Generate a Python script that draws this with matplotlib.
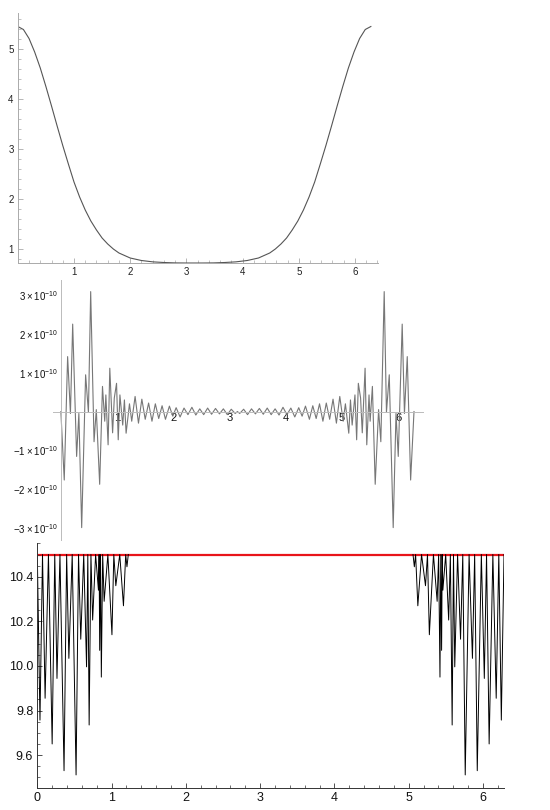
import numpy as np
import matplotlib
matplotlib.use("Agg")
import matplotlib.pyplot as plt
from matplotlib.ticker import MultipleLocator, FixedLocator

plt.rcParams["font.family"] = ["Liberation Sans", "DejaVu Sans"]
plt.rcParams["mathtext.fontset"] = "custom"
plt.rcParams["mathtext.rm"] = "Liberation Sans"

# --- top panel: smooth bump ---
top_x = [0.0, 0.1, 0.2, 0.3, 0.4, 0.5, 0.6, 0.7, 0.8, 0.9, 1.0, 1.1, 1.2, 1.3,
         1.4, 1.5, 1.6, 1.7, 1.8, 1.9, 2.0, 2.2, 2.4, 2.6, 2.8, 3.0, 3.142,
         3.283, 3.483, 3.683, 3.883, 4.083, 4.283, 4.383, 4.483, 4.583, 4.683,
         4.783, 4.883, 4.983, 5.083, 5.183, 5.283, 5.383, 5.483, 5.583, 5.683,
         5.783, 5.883, 5.983, 6.083, 6.183, 6.283]
top_y = [5.45, 5.39, 5.21, 4.94, 4.62, 4.25, 3.86, 3.46, 3.07, 2.70, 2.34,
         2.04, 1.78, 1.56, 1.38, 1.22, 1.10, 1.00, 0.92, 0.87, 0.82, 0.77,
         0.743, 0.73, 0.722, 0.72, 0.72,
         0.72, 0.722, 0.73, 0.743, 0.77, 0.82, 0.87, 0.92, 1.00, 1.10,
         1.22, 1.38, 1.56, 1.78, 2.04, 2.34, 2.70, 3.07, 3.46, 3.86,
         4.25, 4.62, 4.94, 5.21, 5.39, 5.45]

# --- middle panel: error curve, y in units of 1e-10 ---
err_x = [0.00, 0.06, 0.12, 0.17, 0.21, 0.28, 0.32, 0.37, 0.44, 0.49, 0.53,
         0.59, 0.63, 0.69, 0.74, 0.78, 0.80, 0.84, 0.87, 0.92, 0.95, 0.99,
         1.02, 1.05, 1.10, 1.13, 1.16, 1.22, 1.26, 1.32, 1.38, 1.44, 1.50,
         1.56, 1.62, 1.68, 1.74, 1.80, 1.86, 1.93, 1.99, 2.05, 2.12, 2.19,
         2.26, 2.33, 2.40, 2.47, 2.54, 2.61, 2.68, 2.75, 2.82, 2.89, 2.96,
         3.03, 3.10, 3.14,
         3.18, 3.25, 3.32, 3.39, 3.46, 3.53, 3.60, 3.67, 3.74, 3.81, 3.88,
         3.95, 4.02, 4.09, 4.16, 4.23, 4.29, 4.35, 4.42, 4.48, 4.54, 4.60,
         4.66, 4.72, 4.78, 4.84, 4.90, 4.96, 5.02, 5.06, 5.12, 5.15, 5.18,
         5.23, 5.26, 5.29, 5.33, 5.36, 5.41, 5.44, 5.48, 5.50, 5.54, 5.59,
         5.65, 5.69, 5.75, 5.79, 5.84, 5.91, 5.96, 6.00, 6.07, 6.11, 6.16,
         6.22, 6.28]
err_y = [0.00, -1.77, 1.42, -0.05, 2.26, -1.16, -0.05, -3.00, 0.95, -0.02,
         3.10, -0.78, 0.05, -1.88, 0.65, -0.25, 0.43, -0.86, 1.12, -0.55,
         0.35, 0.73, -0.73, 0.43, -0.35, 0.30, -0.56, 0.20, -0.25, 0.39,
         -0.30, 0.32, -0.20, 0.22, -0.25, 0.20, -0.18, 0.15, -0.20, 0.14,
         -0.12, 0.10, -0.14, 0.09, -0.08, 0.11, -0.09, 0.07, -0.08, 0.09,
         -0.07, 0.08, -0.06, 0.07, -0.08, 0.06, -0.05, 0.00,
         -0.05, 0.06, -0.08, 0.07, -0.06, 0.08, -0.07, 0.09, -0.08, 0.07,
         -0.09, 0.11, -0.08, 0.09, -0.14, 0.10, -0.12, 0.14, -0.20, 0.15,
         -0.18, 0.20, -0.25, 0.22, -0.20, 0.32, -0.30, 0.39, -0.25, 0.20,
         -0.56, 0.30, -0.35, 0.43, -0.73, 0.73, 0.35, -0.55, 1.12, -0.86,
         0.43, -0.25, 0.65, -1.88, 0.05, -0.78, 3.10, -0.02, 0.95, -3.00,
         -0.05, -1.16, 2.26, -0.05, 1.42, -1.77, 0.00]
err_ticks = [-3, -2, -1, 1, 2, 3]
err_labels = [r"$-3\times10^{-10}$", r"$-2\times10^{-10}$", r"$-1\times10^{-10}$",
              r"$1\times10^{-10}$", r"$2\times10^{-10}$", r"$3\times10^{-10}$"]

# --- bottom panel: dips below the 10.5 level ---
left_x = [0.000, 0.036, 0.070, 0.105, 0.150, 0.200, 0.235, 0.265, 0.305,
          0.360, 0.395, 0.425, 0.470, 0.522, 0.555, 0.585, 0.625, 0.663,
          0.680, 0.698, 0.722, 0.745, 0.785, 0.823, 0.832, 0.840, 0.851,
          0.862, 0.880, 0.900, 0.950, 1.005, 1.030, 1.057, 1.110, 1.160,
          1.190, 1.207, 1.225]
left_y = [10.50, 9.757, 10.50, 9.855, 10.50, 9.650, 10.50, 9.944, 10.50,
          9.530, 10.50, 10.034, 10.50, 9.511, 10.50, 10.12, 10.50, 9.996,
          10.50, 9.735, 10.50, 10.206, 10.50, 10.34, 10.50, 10.07, 10.50,
          9.95, 10.50, 10.29, 10.50, 10.14, 10.50, 10.36, 10.50, 10.27,
          10.50, 10.445, 10.50]
right_x = [5.058, 5.076, 5.093, 5.123, 5.173, 5.226, 5.253, 5.278, 5.333,
           5.383, 5.403, 5.421, 5.432, 5.443, 5.451, 5.460, 5.498, 5.538,
           5.561, 5.585, 5.603, 5.620, 5.658, 5.698, 5.728, 5.761, 5.813,
           5.858, 5.888, 5.923, 5.978, 6.018, 6.048, 6.083, 6.133, 6.178,
           6.213, 6.247, 6.283]
right_y = [10.50, 10.445, 10.50, 10.27, 10.50, 10.36, 10.50, 10.14, 10.50,
           10.29, 10.50, 9.95, 10.50, 10.07, 10.50, 10.34, 10.50, 10.206,
           10.50, 9.735, 10.50, 9.996, 10.50, 10.12, 10.50, 9.511, 10.50,
           10.034, 10.50, 9.530, 10.50, 9.944, 10.50, 9.650, 10.50, 9.855,
           10.50, 9.757, 10.50]
level = 10.5

W, H = 550, 810
fig = plt.figure(figsize=(W / 100, H / 100), dpi=100)


def box(left, top, right, bottom):
    # pixel box -> figure fraction
    return [left / W, 1 - bottom / H, (right - left) / W, (bottom - top) / H]


def mma_axes(ax, color):
    for s in ("top", "right"):
        ax.spines[s].set_visible(False)
    for s in ("left", "bottom"):
        ax.spines[s].set_color(color)
        ax.spines[s].set_linewidth(0.7)
    ax.tick_params(which="both", direction="in", color=color)
    ax.tick_params(which="major", length=3.5, width=0.6)
    ax.tick_params(which="minor", length=2, width=0.5)


# top
ax1 = fig.add_axes(box(17.8, 13, 378, 263))
ax1.plot(top_x, top_y, color="#555555", lw=0.8)
ax1.set_xlim(0, 6.41)
ax1.set_ylim(0.72, 5.72)
mma_axes(ax1, "#aaaaaa")
ax1.xaxis.set_major_locator(MultipleLocator(1))
ax1.xaxis.set_minor_locator(MultipleLocator(0.2))
ax1.yaxis.set_major_locator(FixedLocator([1, 2, 3, 4, 5]))
ax1.yaxis.set_minor_locator(MultipleLocator(0.2))
ax1.set_xticks([1, 2, 3, 4, 5, 6])
ax1.tick_params(labelsize=7, labelcolor="#222222", pad=3)

# middle
ax2 = fig.add_axes(box(53, 280, 423, 540))
ax2.plot(err_x, err_y, color="#777777", lw=0.8)
ax2.set_xlim(-0.14, 6.44)
ax2.set_ylim(-3.32, 3.40)
mma_axes(ax2, "#bbbbbb")
ax2.spines["left"].set_position(("data", 0))
ax2.spines["bottom"].set_position(("data", 0))
ax2.set_xticks([1, 2, 3, 4, 5, 6])
ax2.set_yticks(err_ticks)
ax2.set_yticklabels(err_labels)
ax2.tick_params(axis="x", length=0, labelsize=8, labelcolor="#111111", pad=1)
ax2.tick_params(axis="y", length=0, labelsize=7, labelcolor="#111111", pad=2)

# bottom
ax3 = fig.add_axes(box(37.3, 542.7, 504, 788.3))
ax3.axhline(level, color="#e8141a", lw=1.6, zorder=1)
ax3.plot(left_x, left_y, color="black", lw=0.7, zorder=2)
ax3.plot(right_x, right_y, color="black", lw=0.7, zorder=2)
ax3.set_xlim(0, 6.283)
ax3.set_ylim(9.451, 10.553)
mma_axes(ax3, "#333333")
ax3.xaxis.set_major_locator(MultipleLocator(1))
ax3.xaxis.set_minor_locator(MultipleLocator(0.2))
ax3.yaxis.set_major_locator(FixedLocator([9.6, 9.8, 10.0, 10.2, 10.4]))
ax3.yaxis.set_minor_locator(MultipleLocator(0.05))
ax3.yaxis.set_major_formatter(matplotlib.ticker.FormatStrFormatter("%.1f"))
ax3.tick_params(labelsize=9, labelcolor="#111111", pad=3)

fig.savefig("out.png", dpi=100)
